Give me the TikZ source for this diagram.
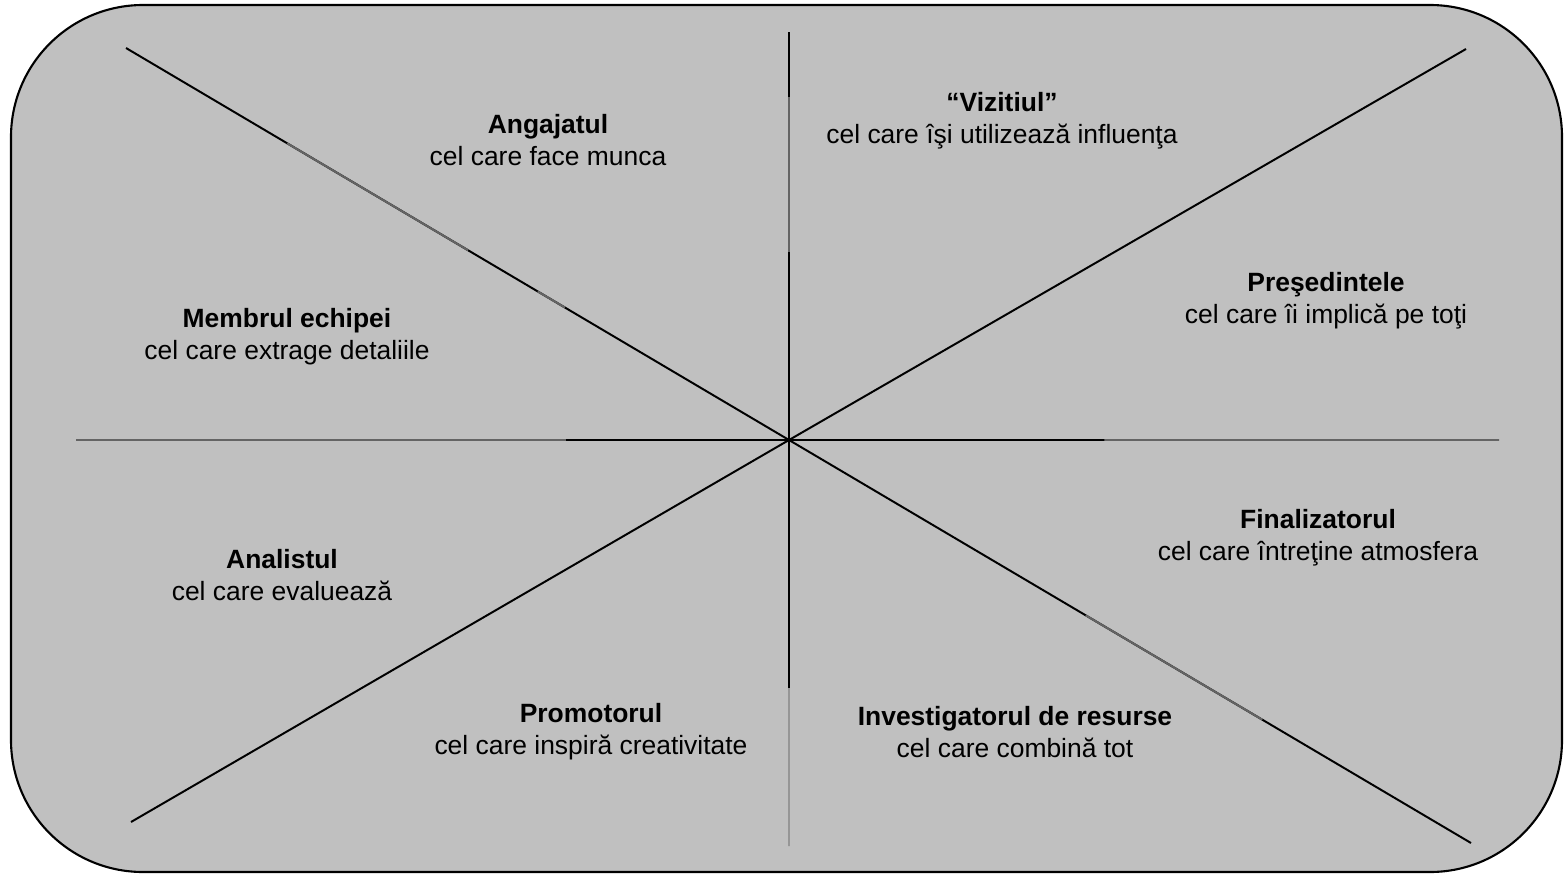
\documentclass[tikz,border=0pt]{standalone}
\usepackage{fontspec}
\setmainfont{Liberation Sans}
\usetikzlibrary{calc}
\definecolor{panel}{RGB}{192,192,192}
\definecolor{midgray}{RGB}{100,100,100}
\definecolor{palegray}{RGB}{150,150,150}
\begin{document}
\begin{tikzpicture}[x=0.025cm,y=-0.025cm,line cap=butt,line join=round,
	spoke/.style={line width=1.4pt},
	role/.style={align=center,font=\fontsize{18.8}{22.7}\selectfont}]
	\useasboundingbox (0,0) rectangle (1564,876);
	\draw[fill=panel,line width=1.5pt,rounded corners=3.3cm] (11,5) rectangle (1562,872);
	% centre and the ends of the eight spokes
	\coordinate (O) at (789,440);
	\coordinate (N) at (789,32);
	\coordinate (S) at (789,846);
	\coordinate (W) at (76,440);
	\coordinate (E) at (1499,440);
	\coordinate (NW) at (126,48);
	\coordinate (NE) at (1466,49);
	\coordinate (SE) at (1471,843);
	\coordinate (SW) at (131,822);
	\foreach \p in {N,S,W,E,NW,NE,SE,SW}
		\draw[spoke] (O) -- (\p);
	% lighter pieces on some spokes
	\draw[spoke,midgray] ($(O)!0.461!(N)$) -- ($(O)!0.841!(N)$);
	\draw[spoke,palegray] ($(O)!0.611!(S)$) -- (S);
	\draw[spoke,midgray] ($(O)!0.313!(W)$) -- (W);
	\draw[spoke,midgray] ($(O)!0.444!(E)$) -- (E);
	\draw[spoke,midgray] ($(O)!0.484!(NW)$) -- ($(O)!0.757!(NW)$);
	\draw[spoke,midgray] ($(O)!0.338!(NW)$) -- ($(O)!0.379!(NW)$);
	\draw[spoke,midgray] ($(O)!0.435!(SE)$) -- ($(O)!0.694!(SE)$);
	% the eight roles
	\node[role] (angajat) at (548,140) {\textbf{Angajatul}\\cel care face munca};
	\node[role] (vizitiu) at (1002,121) {\textbf{“Vizitiul”}\\cel care îşi utilizează influenţa};
	\node[role] (presedinte) at (1326,301) {\textbf{Preşedintele}\\cel care îi implică pe toţi};
	\node[role] (membru) at (287,337) {\textbf{Membrul echipei}\\cel care extrage detaliile};
	\node[role] (analist) at (282,575) {\textbf{Analistul}\\cel care evaluează};
	\node[role] (finalizator) at (1318,538) {\textbf{Finalizatorul}\\cel care întreţine atmosfera};
	\node[role] (promotor) at (591,732) {\textbf{Promotorul}\\cel care inspiră creativitate};
	\node[role] (investigator) at (1015,732) {\textbf{Investigatorul de resurse}\\cel care combină tot};
\end{tikzpicture}
\end{document}
